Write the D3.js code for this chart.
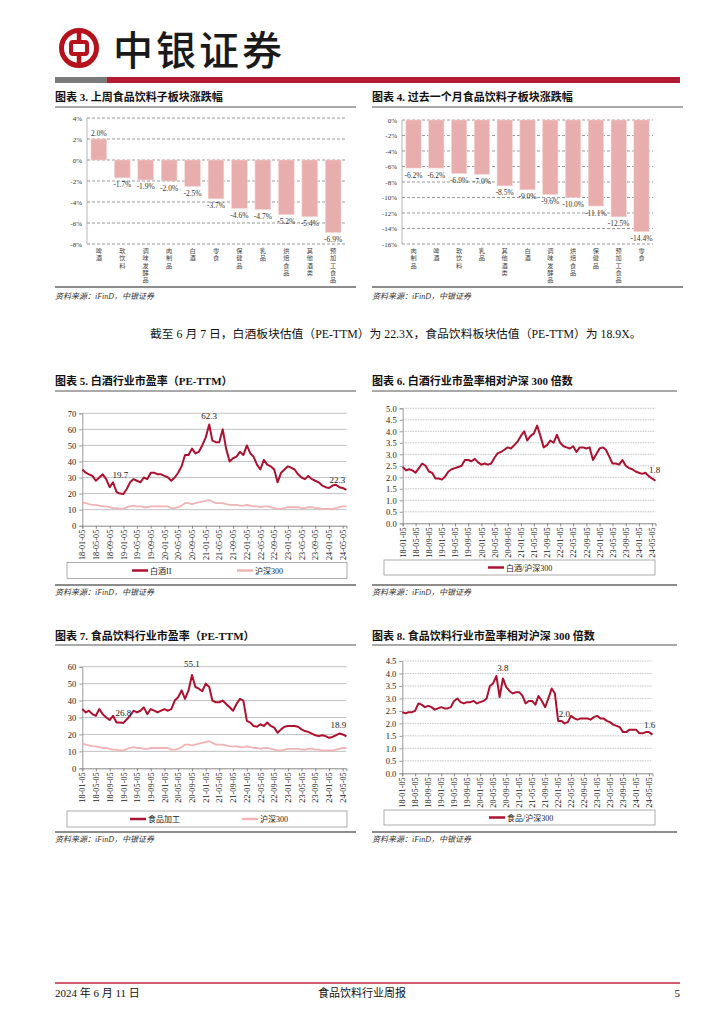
<!DOCTYPE html>
<html><head><meta charset="utf-8">
<script src="https://cdn.jsdelivr.net/npm/d3@7"></script>
<style>
body{margin:0;background:#fff;}
svg{display:block;}
</style></head><body>
<svg id="page" width="724" height="1024"></svg>
<script>
// ---------------- DATA ----------------
const weekCats = ["啤酒","软饮料","调味发酵品","肉制品","白酒","零食","保健品","乳品","烘焙食品","其他酒类","预加工食品"];
const weekVals = [2.0,-1.7,-1.9,-2.0,-2.5,-3.7,-4.6,-4.7,-5.2,-5.4,-6.9];
const weekTicks = [4,2,0,-2,-4,-6,-8];

const monthCats = ["肉制品","啤酒","软饮料","乳品","其他酒类","白酒","调味发酵品","烘焙食品","保健品","预加工食品","零食"];
const monthVals = [-6.2,-6.2,-6.9,-7.0,-8.5,-9.0,-9.6,-10.0,-11.1,-12.5,-14.4];
const monthTicks = [0,-2,-4,-6,-8,-10,-12,-14,-16];

const dateTickLabels = ["18-01-05","18-05-05","18-09-05","19-01-05","19-05-05","19-09-05","20-01-05","20-05-05","20-09-05","21-01-05","21-05-05","21-09-05","22-01-05","22-05-05","22-09-05","23-01-05","23-05-05","23-09-05","24-01-05","24-05-05"];

// monthly observations 2018-01-05 ... 2024-05-05, last = 2024-06-07
const baijiuPE = [
 35,33,32,31,28,30,32,29,24,27,21,20,
 19.7,23,27,29,28,27,30,29,33,33,32,32,
 31,30,28,30,33,37,44,44,48,45,46,50,
 55,63,53,52,52,60,48,40,42,43,46,44,
 50,45,43,38,35,41,38,37,35,27,33,35,
 37,36,35,32,30,29,31,29,28,27,25,24,
 23.5,25,25.5,24,23.5,22.3];
const foodPE = [
 35,33,34,32,31,35,32,30,28.5,31,27,27,
 26.8,29,31,34,33,34,36,32,35,34,33,34,
 35,34,35,40,42,46,41,46,55.1,48,47,45.5,
 50,48,40,39,39,40,38,36,34,38,41,40,
 28,27,25,24.5,26,25,27,25,24,21,23,24.5,
 25,25,25,24.5,23,22,21.5,20.5,19.5,19,19.5,19,
 18,18.5,19.5,20.5,20,18.9];
const hs300PE = [
 14.5,14,13.5,13,13,12.5,12,12,11.5,11,11,10.5,
 10.5,11.5,12,12.5,12,12,11.5,11.5,12,12,12,12,
 12,12,11,11,11.5,12.5,14,14,13.5,14,14.5,15,
 15.5,16,15,14,14,14,13.5,13,13,13,12.5,12.5,
 13,12.5,12,12,11.5,12,12,11.5,11,10.5,10.5,11,
 11.5,11.5,11.5,11.5,11,11,11.5,11.5,11,11,10.5,10.5,
 10.5,10.5,11,11.5,12,12];
const baijiuRel = [
 2.45,2.3,2.35,2.3,2.2,2.4,2.6,2.5,2.25,2.2,1.95,1.95,
 1.9,2.05,2.25,2.35,2.4,2.45,2.5,2.75,2.75,2.7,2.8,2.65,
 2.55,2.6,2.55,2.6,2.85,3.05,3.1,3.2,3.3,3.25,3.4,3.55,
 3.8,4.0,3.6,3.8,3.9,4.25,3.8,3.3,3.4,3.6,3.5,3.85,
 3.5,3.35,3.3,3.25,3.35,3.1,3.3,3.3,3.25,3.3,2.75,3.0,
 3.25,3.3,3.2,2.9,2.6,2.6,2.55,2.75,2.5,2.4,2.35,2.25,
 2.2,2.15,2.2,2.05,1.95,1.85];
const foodRel = [
 2.45,2.4,2.45,2.45,2.5,2.8,2.75,2.65,2.7,2.65,2.55,2.6,
 2.65,2.6,2.6,2.65,2.9,3.0,2.85,2.8,2.85,2.85,2.9,2.8,
 2.85,2.9,3.0,3.5,3.6,3.9,3.05,3.8,3.45,3.3,3.2,3.25,
 3.25,3.1,2.8,2.9,2.9,2.75,3.1,2.9,2.65,3.0,3.4,3.2,
 2.1,2.1,2.0,2.05,2.3,2.2,2.15,2.2,2.2,2.2,2.15,2.25,
 2.3,2.2,2.2,2.1,2.05,1.95,1.9,1.85,1.65,1.65,1.75,1.75,
 1.75,1.6,1.6,1.65,1.65,1.55];

// ---------------- HELPERS ----------------
const parseTick = d3.timeParse("%y-%m-%d");
const obsDates = d3.range(baijiuPE.length-1).map(i=>new Date(2018,i,5));
obsDates.push(new Date(2024,5,7));
const FONT_NUM = "'Liberation Serif','Times New Roman','Noto Sans CJK SC',serif";
const FONT_CJK = "'Liberation Serif','Noto Sans CJK SC',sans-serif";
const RED = "#AC1230", PINK = "#F0B4B4", BAR = "#E8ADAD";

const svg = d3.select("#page");

// ---------------- HEADER ----------------
const logo = svg.append("g");
logo.append("line").attr("x1",79).attr("x2",79).attr("y1",29).attr("y2",67).attr("stroke","#B5121B").attr("stroke-width",4.5);
logo.append("circle").attr("cx",79).attr("cy",48).attr("r",17.5).attr("fill","none").attr("stroke","#B5121B").attr("stroke-width",5);
logo.append("rect").attr("x",71).attr("y",42).attr("width",16).attr("height",12).attr("rx",2).attr("fill","#fff").attr("stroke","#B5121B").attr("stroke-width",4);
svg.append("text").attr("x",113).attr("y",65).attr("font-family","'Noto Sans CJK SC'").attr("font-size",40).attr("font-weight",500).attr("fill","#1a1a1a").attr("letter-spacing",3).text("中银证券");
svg.append("rect").attr("x",55).attr("y",77).attr("width",52).attr("height",6).attr("fill","#7a7a7a");
svg.append("rect").attr("x",107).attr("y",77).attr("width",573).attr("height",6).attr("fill","#B31B34");

// ---------------- TITLES / FRAMES ----------------
function panelFrame(x0,x1,titleY,lineY,sepY,srcY,title){
  svg.append("text").attr("x",x0).attr("y",titleY).attr("font-family",FONT_CJK).attr("font-weight","bold").attr("font-size",11).attr("fill","#111").text(title);
  svg.append("line").attr("x1",x0).attr("x2",x1).attr("y1",lineY).attr("y2",lineY).attr("stroke","#555").attr("stroke-width",1);
  svg.append("line").attr("x1",x0).attr("x2",x1).attr("y1",sepY).attr("y2",sepY).attr("stroke","#666").attr("stroke-width",1.3);
  svg.append("text").attr("x",x0).attr("y",srcY).attr("font-family",FONT_CJK).attr("font-style","italic").attr("font-size",8).attr("fill","#333").text("资料来源：iFinD，中银证券");
}
panelFrame(55,356,101,107,287,299,"图表 3. 上周食品饮料子板块涨跌幅");
panelFrame(372,683,101,107,287,299,"图表 4. 过去一个月食品饮料子板块涨跌幅");
panelFrame(55,356,385,391,585,595,"图表 5. 白酒行业市盈率（PE-TTM）");
panelFrame(372,677,385,391,585,595,"图表 6. 白酒行业市盈率相对沪深 300 倍数");
panelFrame(55,356,640,645,832,842,"图表 7. 食品饮料行业市盈率（PE-TTM）");
panelFrame(372,677,640,645,832,842,"图表 8. 食品饮料行业市盈率相对沪深 300 倍数");

svg.append("text").attr("x",150).attr("y",338).attr("font-family",FONT_CJK).attr("font-size",11.8).attr("fill","#111")
  .text("截至 6 月 7 日，白酒板块估值（PE-TTM）为 22.3X，食品饮料板块估值（PE-TTM）为 18.9X。");

// ---------------- BAR CHARTS ----------------
function barChart(cfg){
  const g = svg.append("g");
  const y = d3.scaleLinear().domain(cfg.domain).range([cfg.yBottom,cfg.yTop]);
  const x = d3.scaleBand().domain(cfg.cats).range([cfg.x0,cfg.x1]).paddingInner(0.33).paddingOuter(0.17);
  g.selectAll("line.grid").data(cfg.ticks).join("line")
    .attr("x1",cfg.x0).attr("x2",cfg.x1).attr("y1",d=>y(d)).attr("y2",d=>y(d))
    .attr("stroke","#555").attr("stroke-width",0.6).attr("stroke-dasharray","3,2");
  g.append("line").attr("x1",cfg.x0).attr("x2",cfg.x0).attr("y1",cfg.yTop).attr("y2",cfg.yBottom).attr("stroke","#999").attr("stroke-width",0.7);
  g.selectAll("text.yt").data(cfg.ticks).join("text")
    .attr("x",cfg.x0-5).attr("y",d=>y(d)+2.5).attr("text-anchor","end")
    .attr("font-family",FONT_NUM).attr("font-size",7).attr("fill","#333").text(d=>d+"%");
  g.selectAll("rect.bar").data(cfg.vals).join("rect")
    .attr("x",(d,i)=>x(cfg.cats[i])).attr("width",x.bandwidth())
    .attr("y",d=>y(Math.max(0,d))).attr("height",d=>Math.abs(y(d)-y(0)))
    .attr("fill",BAR).attr("stroke","#f6d6d6").attr("stroke-width",0.6);
  g.selectAll("text.val").data(cfg.vals).join("text")
    .attr("x",(d,i)=>x(cfg.cats[i])+x.bandwidth()/2)
    .attr("y",d=>d>=0? y(d)-3 : y(d)+9.5)
    .attr("text-anchor","middle").attr("font-family",FONT_NUM).attr("font-size",7.5).attr("fill","#333")
    .text(d=>d.toFixed(1)+"%");
  cfg.cats.forEach((c,i)=>{
    [...c].forEach((ch,k)=>{
      g.append("text").attr("x",x(c)+x.bandwidth()/2).attr("y",cfg.yBottom+9+k*7.3)
        .attr("font-family","'Noto Sans CJK SC'").attr("font-size",6.2).attr("fill","#444").attr("text-anchor","middle").text(ch);
    });
  });
}
barChart({cats:weekCats, vals:weekVals, ticks:weekTicks, domain:[-8,4], x0:87, x1:345, yTop:118, yBottom:244});
barChart({cats:monthCats, vals:monthVals, ticks:monthTicks, domain:[-16,0], x0:402, x1:653, yTop:120, yBottom:244});

// ---------------- LINE CHARTS ----------------
function lineChart(cfg){
  const g = svg.append("g");
  const x = d3.scaleTime().domain([obsDates[0], obsDates[obsDates.length-1]]).range([cfg.x0,cfg.xEnd]);
  const y = d3.scaleLinear().domain([0,cfg.max]).range([cfg.yBottom,cfg.yTop]);
  const ticks = d3.range(0, cfg.max+cfg.step/2, cfg.step);
  g.selectAll("line.grid").data(ticks.slice(1)).join("line")
    .attr("x1",cfg.x0).attr("x2",cfg.xEnd).attr("y1",d=>y(d)).attr("y2",d=>y(d))
    .attr("stroke","#9a9a9a").attr("stroke-width",0.6).attr("stroke-dasharray",cfg.dash||null);
  const ya = d3.axisLeft(y).tickValues(ticks).tickSize(3).tickFormat(cfg.fmt);
  const yg = g.append("g").attr("transform",`translate(${cfg.x0},0)`).call(ya);
  yg.select(".domain").attr("stroke","#999");
  yg.selectAll(".tick line").attr("stroke","#999");
  yg.selectAll(".tick text").attr("font-family",FONT_NUM).attr("font-size",8.5).attr("fill","#222").attr("x",-6);
  const xa = d3.axisBottom(x).tickValues(dateTickLabels.map(parseTick)).tickSize(3).tickFormat(d3.timeFormat("%y-%m-%d"));
  const xg = g.append("g").attr("transform",`translate(0,${cfg.yBottom})`).call(xa);
  xg.select(".domain").attr("stroke","#888");
  xg.selectAll(".tick line").attr("stroke","#888");
  xg.selectAll(".tick text").attr("font-family",FONT_NUM).attr("font-size",8.3).attr("fill","#222")
    .attr("transform","rotate(-90)").attr("text-anchor","end").attr("x",-4).attr("y",0).attr("dy","0.32em");
  cfg.series.slice().reverse().forEach(s=>{
    const line = d3.line().x((d,i)=>x(obsDates[i])).y(d=>y(d));
    g.append("path").datum(s.values).attr("d",line).attr("fill","none")
      .attr("stroke",s.color).attr("stroke-width",s.width).attr("stroke-linejoin","round");
  });
  cfg.notes.forEach(n=>{
    const i = n.idx;
    g.append("text").attr("x",x(obsDates[i])+n.dx).attr("y",y(cfg.series[0].values[i])+n.dy)
      .attr("text-anchor","middle").attr("font-family",FONT_NUM).attr("font-size",9).attr("fill","#222")
      .text(n.text);
  });
  const L = cfg.legend;
  g.append("rect").attr("x",L.x).attr("y",L.y).attr("width",L.w).attr("height",L.h).attr("fill","#fff").attr("stroke","#888").attr("stroke-width",0.7);
  L.items.forEach((it,k)=>{
    const s = cfg.series[k];
    g.append("line").attr("x1",it.x).attr("x2",it.x+16).attr("y1",L.y+L.h/2).attr("y2",L.y+L.h/2).attr("stroke",s.color).attr("stroke-width",2.5);
    g.append("text").attr("x",it.x+18).attr("y",L.y+L.h/2+3).attr("font-family",FONT_CJK).attr("font-size",8).attr("fill","#222").text(s.name);
  });
}
const fmtInt = d3.format("d"), fmt1 = d3.format(".1f");
lineChart({x0:82.3, xEnd:346.4, yTop:413.3, yBottom:525.7, max:70, step:10, fmt:fmtInt,
  series:[{name:"白酒II",values:baijiuPE,color:RED,width:2},{name:"沪深300",values:hs300PE,color:PINK,width:1.8}],
  notes:[{idx:37,text:"62.3",dx:0,dy:-6},{idx:12,text:"19.7",dx:-3,dy:-16},{idx:77,text:"22.3",dx:-9,dy:-7}],
  legend:{x:67,y:562.5,w:280,h:16,items:[{x:132},{x:237}]}});
lineChart({x0:402.7, xEnd:655.5, yTop:408.3, yBottom:523.3, max:5, step:0.5, fmt:fmt1, dash:"1.5,1",
  series:[{name:"白酒/沪深300",values:baijiuRel,color:RED,width:2}],
  notes:[{idx:77,text:"1.8",dx:-1,dy:-8}],
  legend:{x:384,y:560,w:271,h:15,items:[{x:488}]}});
lineChart({x0:82.3, xEnd:346.4, yTop:666.7, yBottom:768.3, max:60, step:10, fmt:fmtInt,
  series:[{name:"食品加工",values:foodPE,color:RED,width:2},{name:"沪深300",values:hs300PE,color:PINK,width:1.8}],
  notes:[{idx:32,text:"55.1",dx:0,dy:-8},{idx:12,text:"26.8",dx:0,dy:-7},{idx:77,text:"18.9",dx:-8,dy:-8}],
  legend:{x:67,y:811,w:280,h:16,items:[{x:130},{x:242}]}});
lineChart({x0:402.3, xEnd:652.5, yTop:661, yBottom:773.3, max:4.5, step:0.5, fmt:fmt1, dash:"1.5,1",
  series:[{name:"食品/沪深300",values:foodRel,color:RED,width:2}],
  notes:[{idx:31,text:"3.8",dx:0,dy:-7},{idx:50,text:"2.0",dx:0,dy:-6},{idx:77,text:"1.6",dx:-3,dy:-7}],
  legend:{x:384,y:810,w:271,h:15,items:[{x:489}]}});

// ---------------- FOOTER ----------------
svg.append("line").attr("x1",55).attr("x2",680).attr("y1",983).attr("y2",983).attr("stroke","#C0283C").attr("stroke-width",1.5);
svg.append("text").attr("x",55).attr("y",997).attr("font-family",FONT_CJK).attr("font-size",11).attr("fill","#111").text("2024 年 6 月 11 日");
svg.append("text").attr("x",362).attr("y",997).attr("text-anchor","middle").attr("font-family",FONT_CJK).attr("font-size",11).attr("fill","#111").text("食品饮料行业周报");
svg.append("text").attr("x",680).attr("y",997).attr("text-anchor","end").attr("font-family",FONT_CJK).attr("font-size",11).attr("fill","#111").text("5");
</script>
</body></html>
